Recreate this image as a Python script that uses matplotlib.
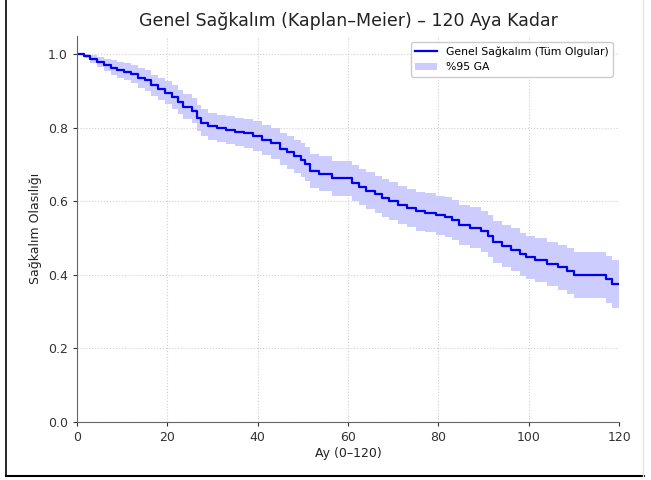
import matplotlib.pyplot as plt
from matplotlib.lines import Line2D

# 数据 (Kaplan–Meier basamakları, görselden okundu)
months = [0, 1.5, 3, 4.5, 6, 7.5, 9, 10.5, 12, 13.5, 15, 16.5, 18, 19.5, 21, 22.5, 23.5,
          25.5, 26.5, 27.5, 29, 31, 33, 35, 37, 39, 41, 43, 45, 46.5, 48, 49.5, 50.5, 51.5,
          53.5, 56.5, 61, 62.5, 64, 66, 67.5, 69, 71, 73, 75, 77, 79.5, 81.5, 83, 84.5, 87,
          89.5, 91, 92, 94, 96, 98, 99.5, 101.5, 104, 106.5, 108.5, 110, 117, 118.5, 120]
survival = [1.000, 0.995, 0.985, 0.978, 0.970, 0.963, 0.957, 0.952, 0.945, 0.935, 0.928,
            0.915, 0.905, 0.895, 0.883, 0.870, 0.857, 0.845, 0.825, 0.813, 0.803, 0.798,
            0.792, 0.788, 0.784, 0.776, 0.766, 0.757, 0.742, 0.733, 0.722, 0.712, 0.700,
            0.682, 0.675, 0.662, 0.650, 0.638, 0.628, 0.618, 0.608, 0.600, 0.590, 0.582,
            0.573, 0.568, 0.562, 0.556, 0.548, 0.535, 0.528, 0.518, 0.505, 0.488, 0.478,
            0.468, 0.455, 0.447, 0.440, 0.430, 0.420, 0.410, 0.400, 0.388, 0.375, 0.375]
ci_lower = [1.000, 0.989, 0.974, 0.964, 0.953, 0.943, 0.935, 0.928, 0.920, 0.908, 0.900,
            0.886, 0.875, 0.864, 0.851, 0.837, 0.823, 0.811, 0.790, 0.777, 0.767, 0.761,
            0.754, 0.749, 0.744, 0.735, 0.724, 0.714, 0.698, 0.688, 0.677, 0.666, 0.654,
            0.635, 0.628, 0.614, 0.601, 0.589, 0.578, 0.568, 0.557, 0.549, 0.538, 0.530,
            0.520, 0.515, 0.509, 0.502, 0.494, 0.480, 0.473, 0.462, 0.449, 0.431, 0.421,
            0.410, 0.397, 0.388, 0.381, 0.370, 0.359, 0.348, 0.338, 0.324, 0.310, 0.310]
ci_upper = [1.000, 1.000, 0.996, 0.992, 0.987, 0.983, 0.979, 0.976, 0.970, 0.962, 0.956,
            0.944, 0.935, 0.926, 0.915, 0.903, 0.891, 0.879, 0.860, 0.849, 0.839, 0.835,
            0.830, 0.827, 0.824, 0.817, 0.808, 0.800, 0.786, 0.778, 0.767, 0.758, 0.746,
            0.729, 0.722, 0.710, 0.699, 0.687, 0.678, 0.668, 0.659, 0.651, 0.642, 0.634,
            0.626, 0.621, 0.615, 0.610, 0.602, 0.590, 0.583, 0.574, 0.561, 0.545, 0.535,
            0.526, 0.513, 0.506, 0.499, 0.490, 0.481, 0.472, 0.462, 0.452, 0.440, 0.440]

fig = plt.figure(figsize=(6.51, 4.80), dpi=100)
ax = fig.add_axes([0.118, 0.121, 0.833, 0.805])

band = ax.fill_between(months, ci_lower, ci_upper, step='post', color='#0000ff', alpha=0.2,
                       linewidth=0, label='%95 GA')
line, = ax.step(months, survival, where='post', color='#0000ee', linewidth=1.6,
                label='Genel Sağkalım (Tüm Olgular)')

ax.set_xlim(0, 120)
ax.set_ylim(0, 1.05)
ax.set_xticks([0, 20, 40, 60, 80, 100, 120])
ax.set_yticks([0.0, 0.2, 0.4, 0.6, 0.8, 1.0])
ax.tick_params(labelsize=9, colors='#333333', length=3)
ax.grid(True, linestyle=':', color='#d0d0d0', linewidth=0.8)
for side in ['top', 'right']:
    ax.spines[side].set_visible(False)
for side in ['left', 'bottom']:
    ax.spines[side].set_color('#666666')

ax.set_title('Genel Sağkalım (Kaplan–Meier) – 120 Aya Kadar', fontsize=12.5, color='#222222', pad=7)
ax.set_xlabel('Ay (0–120)', fontsize=9, color='#222222', labelpad=2)
ax.set_ylabel('Sağkalım Olasılığı', fontsize=9, color='#222222')
ax.legend(handles=[line, band], loc='upper right', fontsize=7.8, framealpha=1,
          edgecolor='#cccccc', borderaxespad=0.6)

# ekran görüntüsü çerçevesi
fig.add_artist(Line2D([0.0095, 0.0095], [0.008, 1.0], color='black', linewidth=1.2))
fig.add_artist(Line2D([0.0095, 0.99], [0.008, 0.008], color='black', linewidth=1.5))
fig.add_artist(Line2D([0.988, 0.988], [0.008, 1.0], color='#e4e4e4', linewidth=1.0))

plt.savefig('out.png', dpi=100)
